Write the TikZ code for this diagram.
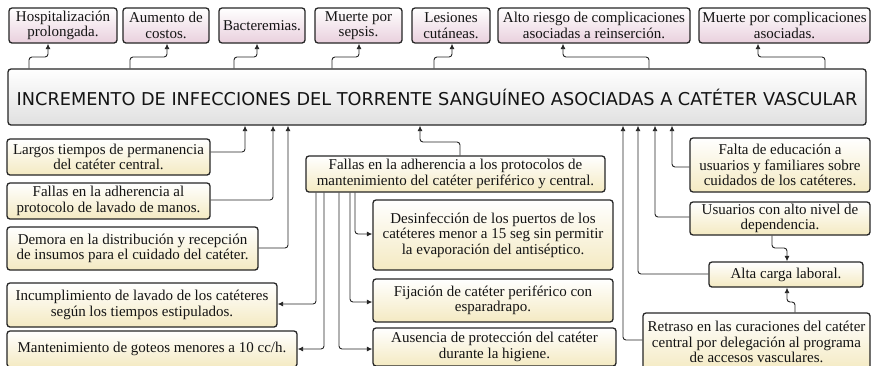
\documentclass[tikz,border=0pt]{standalone}
\usepackage{fontspec}
\setmainfont{Liberation Serif}
\newfontfamily\titlefont{DejaVu Sans}
\usetikzlibrary{arrows.meta}
\definecolor{linec}{HTML}{262626}
\definecolor{textc}{HTML}{141414}
\definecolor{pinkc}{HTML}{E9D0DD}
\definecolor{creamc}{HTML}{F4EAC2}
\definecolor{grayc}{HTML}{E0E0E0}
\tikzset{
  box/.style={draw=linec, line width=1.3pt, rounded corners=3pt, align=center,
    inner sep=1pt, text=textc, font=\fontsize{15}{15.5}\selectfont},
  topbox/.style={box, top color=white, bottom color=pinkc, minimum height=35pt},
  causebox/.style={box, top color=white, bottom color=creamc},
  mainbox/.style={draw=linec, line width=1.3pt, rounded corners=3pt,
    top color=white, bottom color=grayc, text=textc,
    font=\titlefont\fontsize{17.7}{20}\selectfont},
  conn/.style={draw=linec, line width=0.9pt, rounded corners=3pt,
    -{Latex[length=5.5pt,width=5pt]}}
}
\begin{document}
\begin{tikzpicture}[x=1pt,y=-1pt]
\useasboundingbox (0,0) rectangle (872,365);
\clip (0,0) rectangle (872,365);
\fill[white] (0,0) rectangle (872,365);

% top consequence boxes
\node[topbox, minimum width=108pt] (t1) at (63,25.5) {Hospitalización\\prolongada.};
\node[topbox, minimum width=86pt] (t2) at (166,25.5) {Aumento de\\costos.};
\node[topbox, minimum width=86pt] (t3) at (262,25.5) {Bacteremias.};
\node[topbox, minimum width=87pt] (t4) at (358.5,25.5) {Muerte por\\sepsis.};
\node[topbox, minimum width=78pt] (t5) at (451,25.5) {Lesiones\\cutáneas.};
\node[topbox, minimum width=192pt] (t6) at (594,25.5) {Alto riesgo de complicaciones\\asociadas a reinserción.};
\node[topbox, minimum width=171pt] (t7) at (784.5,25.5) {Muerte por complicaciones\\asociadas.};

% main problem
\node[mainbox, minimum width=858pt, minimum height=56pt] (main) at (437,97)
  {INCREMENTO DE INFECCIONES DEL TORRENTE SANGUÍNEO ASOCIADAS A CATÉTER VASCULAR};

% left causes
\node[causebox, minimum width=203pt, minimum height=36pt] (l1) at (108.5,157) {Largos tiempos de permanencia\\del catéter central.};
\node[causebox, minimum width=203pt, minimum height=36pt] (l2) at (108.5,201) {Fallas en la adherencia al\\protocolo de lavado de manos.};
\node[causebox, minimum width=251pt, minimum height=43pt] (l3) at (132.5,248.5) {Demora en la distribución y recepción\\de insumos para el cuidado del catéter.};
\node[causebox, minimum width=270pt, minimum height=44pt] (l4) at (142,305) {Incumplimiento de lavado de los catéteres\\según los tiempos estipulados.};
\node[causebox, minimum width=290pt, minimum height=36pt] (l5) at (152,349) {Mantenimiento de goteos menores a 10 cc/h.};

% center causes
\node[causebox, minimum width=299pt, minimum height=36pt] (c1) at (455.5,174) {Fallas en la adherencia a los protocolos de\\mantenimiento del catéter periférico y central.};
\node[causebox, minimum width=240pt, minimum height=70pt] (c2) at (493,235) {Desinfección de los puertos de los\\catéteres menor a 15 seg sin permitir\\la evaporación del antiséptico.};
\node[causebox, minimum width=240pt, minimum height=43pt] (c3) at (493,300.5) {Fijación de catéter periférico con\\esparadrapo.};
\node[causebox, minimum width=243pt, minimum height=38pt] (c4) at (494.5,347) {Ausencia de protección del catéter\\durante la higiene.};

% right causes
\node[causebox, minimum width=180pt, minimum height=54pt] (r1) at (780,165) {Falta de educación a\\usuarios y familiares sobre\\cuidados de los catéteres.};
\node[causebox, minimum width=180pt, minimum height=33pt] (r2) at (780,218.5) {Usuarios con alto nivel de\\dependencia.};
\node[causebox, minimum width=154pt, minimum height=25pt] (r3) at (786,274.5) {Alta carga laboral.};
\node[causebox, minimum width=227pt, minimum height=58pt] (r4) at (756.5,342) {Retraso en las curaciones del catéter\\central por delegación al programa\\de accesos vasculares.};

% connectors: main -> top boxes
\coordinate (u1a) at (29,57);  \coordinate (u1b) at (48,57);
\coordinate (u2a) at (130,57); \coordinate (u2b) at (167,57);
\coordinate (u3a) at (234,57); \coordinate (u3b) at (257,57);
\coordinate (u4a) at (332,57); \coordinate (u4b) at (359,57);
\coordinate (u5a) at (434,57); \coordinate (u5b) at (452,57);
\coordinate (u6a) at (649,57); \coordinate (u6b) at (563,57);
\coordinate (u7a) at (825,57); \coordinate (u7b) at (758,57);
\draw[conn] (main.north -| u1a) -- (u1a) -- (u1b) -- (t1.south -| u1b);
\draw[conn] (main.north -| u2a) -- (u2a) -- (u2b) -- (t2.south -| u2b);
\draw[conn] (main.north -| u3a) -- (u3a) -- (u3b) -- (t3.south -| u3b);
\draw[conn] (main.north -| u4a) -- (u4a) -- (u4b) -- (t4.south -| u4b);
\draw[conn] (main.north -| u5a) -- (u5a) -- (u5b) -- (t5.south -| u5b);
\draw[conn] (main.north -| u6a) -- (u6a) -- (u6b) -- (t6.south -| u6b);
\draw[conn] (main.north -| u7a) -- (u7a) -- (u7b) -- (t7.south -| u7b);

% left causes -> main
\coordinate (k1) at (245,152);
\coordinate (k2) at (273,200);
\coordinate (k3) at (288,248);
\draw[conn] (l1.east |- k1) -- (k1) -- (main.south -| k1);
\draw[conn] (l2.east |- k2) -- (k2) -- (main.south -| k2);
\draw[conn] (l3.east |- k3) -- (k3) -- (main.south -| k3);

% center cause -> main
\coordinate (m1) at (460,142); \coordinate (m2) at (420,142);
\draw[conn] (c1.north -| m1) -- (m1) -- (m2) -- (main.south -| m2);

% center cause -> sub causes
\coordinate (d1) at (316,304);
\coordinate (d2) at (324,349);
\coordinate (d3) at (339,349);
\coordinate (d4) at (350,302);
\coordinate (d5) at (355,234);
\draw[conn] (c1.south -| d1) -- (d1) -- (l4.east |- d1);
\draw[conn] (c1.south -| d2) -- (d2) -- (l5.east |- d2);
\draw[conn] (c1.south -| d3) -- (d3) -- (c4.west |- d3);
\draw[conn] (c1.south -| d4) -- (d4) -- (c3.west |- d4);
\draw[conn] (c1.south -| d5) -- (d5) -- (c2.west |- d5);

% right causes -> main
\coordinate (e1) at (623,340);
\coordinate (e2) at (638,274);
\coordinate (e3) at (655,217);
\coordinate (e4) at (672,167);
\draw[conn] (r4.west |- e1) -- (e1) -- (main.south -| e1);
\draw[conn] (r3.west |- e2) -- (e2) -- (main.south -| e2);
\draw[conn] (r2.west |- e3) -- (e3) -- (main.south -| e3);
\draw[conn] (r1.west |- e4) -- (e4) -- (main.south -| e4);

% chain into workload
\coordinate (f1) at (772,248); \coordinate (f2) at (787,248);
\draw[conn] (r2.south -| f1) -- (f1) -- (f2) -- (r3.north -| f2);
\coordinate (g1) at (795,302); \coordinate (g2) at (787,302);
\draw[conn] (r4.north -| g1) -- (g1) -- (g2) -- (r3.south -| g2);
\end{tikzpicture}
\end{document}
